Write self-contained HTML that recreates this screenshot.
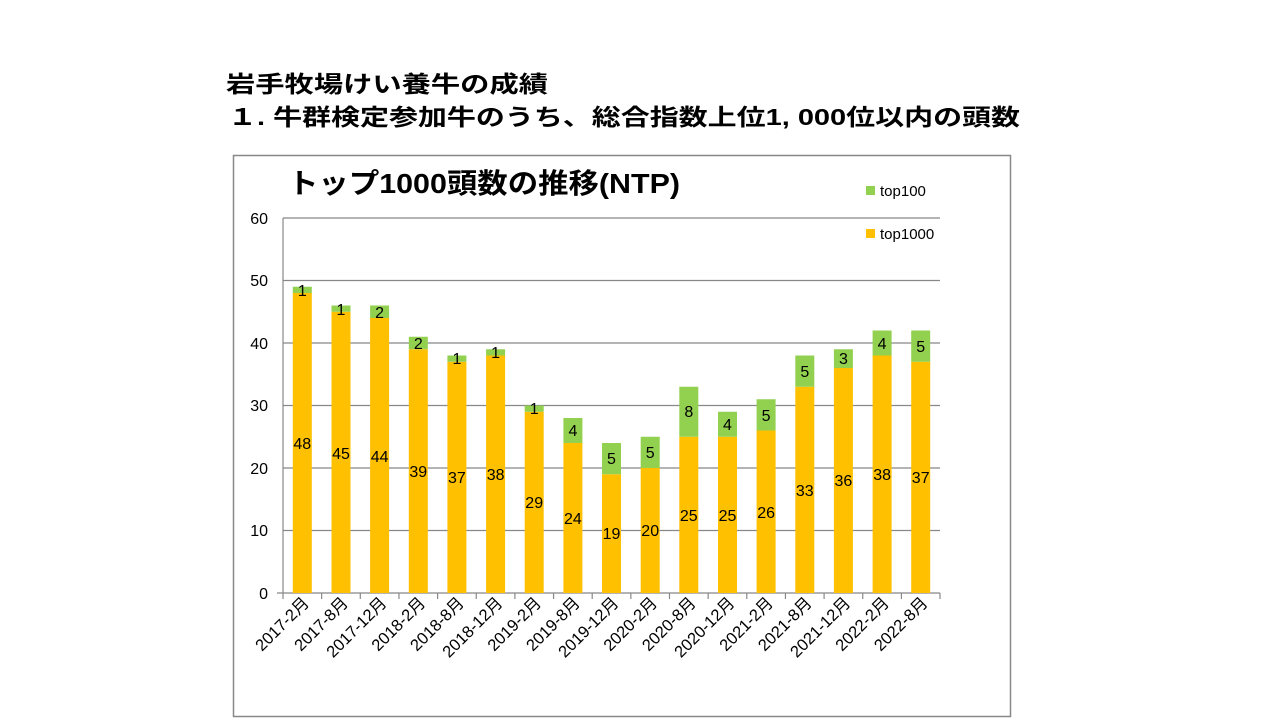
<!DOCTYPE html>
<html><head><meta charset="utf-8"><style>body{margin:0;background:#fff}svg{display:block}</style></head><body>
<svg width="1280" height="720" xmlns="http://www.w3.org/2000/svg" font-family="'Liberation Sans','Noto Sans CJK JP',sans-serif">
<text x="226" y="92" font-size="23" font-weight="bold" textLength="322" lengthAdjust="spacingAndGlyphs">岩手牧場けい養牛の成績</text>
<text x="228" y="125" font-size="23" font-weight="bold" textLength="792" lengthAdjust="spacingAndGlyphs">１. 牛群検定参加牛のうち、総合指数上位1, 000位以内の頭数</text>
<rect x="233.5" y="155.5" width="777" height="561" fill="#fff" stroke="#888" stroke-width="1.5"/>
<text x="288" y="193" font-size="28" font-weight="bold" textLength="392" lengthAdjust="spacingAndGlyphs">トップ1000頭数の推移(NTP)</text>
<g stroke="#888" stroke-width="1.2">
<line x1="283" y1="218" x2="940" y2="218"/><line x1="283" y1="280.5" x2="940" y2="280.5"/>
<line x1="283" y1="343" x2="940" y2="343"/><line x1="283" y1="405.5" x2="940" y2="405.5"/>
<line x1="283" y1="468" x2="940" y2="468"/><line x1="283" y1="530.5" x2="940" y2="530.5"/>
<line x1="283" y1="218" x2="283" y2="593"/><line x1="277" y1="593" x2="940" y2="593"/>
</g>
<g font-size="16" text-anchor="end">
<text x="268" y="224">60</text><text x="268" y="286">50</text><text x="268" y="349">40</text><text x="268" y="411">30</text><text x="268" y="474">20</text><text x="268" y="536">10</text><text x="268" y="599">0</text>
</g>
<rect x="866" y="186" width="9" height="9" fill="#92d050"/><text x="880" y="196" font-size="15">top100</text>
<rect x="866" y="229" width="9" height="9" fill="#ffc000"/><text x="880" y="239" font-size="15">top1000</text>
<g fill="#ffc000">
<rect x="292.8" y="293" width="19" height="300"/>
<rect x="331.5" y="311.75" width="19" height="281.25"/>
<rect x="370.1" y="318" width="19" height="275"/>
<rect x="408.8" y="349.25" width="19" height="243.75"/>
<rect x="447.4" y="361.75" width="19" height="231.25"/>
<rect x="486.1" y="355.5" width="19" height="237.5"/>
<rect x="524.7" y="411.75" width="19" height="181.25"/>
<rect x="563.4" y="443" width="19" height="150"/>
<rect x="602" y="474.25" width="19" height="118.75"/>
<rect x="640.7" y="468" width="19" height="125"/>
<rect x="679.3" y="436.75" width="19" height="156.25"/>
<rect x="718" y="436.75" width="19" height="156.25"/>
<rect x="756.6" y="430.5" width="19" height="162.5"/>
<rect x="795.3" y="386.75" width="19" height="206.25"/>
<rect x="833.9" y="368" width="19" height="225"/>
<rect x="872.6" y="355.5" width="19" height="237.5"/>
<rect x="911.2" y="361.75" width="19" height="231.25"/>
</g>
<g fill="#92d050">
<rect x="292.8" y="286.75" width="19" height="6.25"/>
<rect x="331.5" y="305.5" width="19" height="6.25"/>
<rect x="370.1" y="305.5" width="19" height="12.5"/>
<rect x="408.8" y="336.75" width="19" height="12.5"/>
<rect x="447.4" y="355.5" width="19" height="6.25"/>
<rect x="486.1" y="349.25" width="19" height="6.25"/>
<rect x="524.7" y="405.5" width="19" height="6.25"/>
<rect x="563.4" y="418" width="19" height="25"/>
<rect x="602" y="443" width="19" height="31.25"/>
<rect x="640.7" y="436.75" width="19" height="31.25"/>
<rect x="679.3" y="386.75" width="19" height="50"/>
<rect x="718" y="411.75" width="19" height="25"/>
<rect x="756.6" y="399.25" width="19" height="31.25"/>
<rect x="795.3" y="355.5" width="19" height="31.25"/>
<rect x="833.9" y="349.25" width="19" height="18.75"/>
<rect x="872.6" y="330.5" width="19" height="25"/>
<rect x="911.2" y="330.5" width="19" height="31.25"/>
</g>
<g stroke="#888" stroke-width="1.2">
<line x1="283" y1="593" x2="283" y2="599"/><line x1="321.65" y1="593" x2="321.65" y2="599"/><line x1="360.3" y1="593" x2="360.3" y2="599"/><line x1="398.95" y1="593" x2="398.95" y2="599"/><line x1="437.6" y1="593" x2="437.6" y2="599"/><line x1="476.25" y1="593" x2="476.25" y2="599"/><line x1="514.9" y1="593" x2="514.9" y2="599"/><line x1="553.55" y1="593" x2="553.55" y2="599"/><line x1="592.2" y1="593" x2="592.2" y2="599"/><line x1="630.85" y1="593" x2="630.85" y2="599"/><line x1="669.5" y1="593" x2="669.5" y2="599"/><line x1="708.15" y1="593" x2="708.15" y2="599"/><line x1="746.8" y1="593" x2="746.8" y2="599"/><line x1="785.45" y1="593" x2="785.45" y2="599"/><line x1="824.1" y1="593" x2="824.1" y2="599"/><line x1="862.75" y1="593" x2="862.75" y2="599"/><line x1="901.4" y1="593" x2="901.4" y2="599"/><line x1="940" y1="593" x2="940" y2="599"/>
</g>
<g font-size="16" text-anchor="middle">
<text x="302.3" y="449">48</text><text x="302.3" y="296">1</text>
<text x="341" y="459">45</text><text x="341" y="315">1</text>
<text x="379.6" y="462">44</text><text x="379.6" y="318">2</text>
<text x="418.3" y="477">39</text><text x="418.3" y="349">2</text>
<text x="456.9" y="483">37</text><text x="456.9" y="364">1</text>
<text x="495.6" y="480">38</text><text x="495.6" y="358">1</text>
<text x="534.2" y="508">29</text><text x="534.2" y="414">1</text>
<text x="572.9" y="524">24</text><text x="572.9" y="436">4</text>
<text x="611.5" y="539">19</text><text x="611.5" y="464">5</text>
<text x="650.2" y="536">20</text><text x="650.2" y="458">5</text>
<text x="688.8" y="521">25</text><text x="688.8" y="417">8</text>
<text x="727.5" y="521">25</text><text x="727.5" y="430">4</text>
<text x="766.1" y="518">26</text><text x="766.1" y="421">5</text>
<text x="804.8" y="496">33</text><text x="804.8" y="377">5</text>
<text x="843.4" y="486">36</text><text x="843.4" y="364">3</text>
<text x="882.1" y="480">38</text><text x="882.1" y="349">4</text>
<text x="920.7" y="483">37</text><text x="920.7" y="352">5</text>
</g>
<g font-size="16.5" text-anchor="end">
<text transform="translate(310,604) rotate(-45)">2017-2月</text>
<text transform="translate(349,604) rotate(-45)">2017-8月</text>
<text transform="translate(387.6,604) rotate(-45)">2017-12月</text>
<text transform="translate(426.3,604) rotate(-45)">2018-2月</text>
<text transform="translate(464.9,604) rotate(-45)">2018-8月</text>
<text transform="translate(503.6,604) rotate(-45)">2018-12月</text>
<text transform="translate(542.2,604) rotate(-45)">2019-2月</text>
<text transform="translate(580.9,604) rotate(-45)">2019-8月</text>
<text transform="translate(619.5,604) rotate(-45)">2019-12月</text>
<text transform="translate(658.2,604) rotate(-45)">2020-2月</text>
<text transform="translate(696.8,604) rotate(-45)">2020-8月</text>
<text transform="translate(735.5,604) rotate(-45)">2020-12月</text>
<text transform="translate(774.1,604) rotate(-45)">2021-2月</text>
<text transform="translate(812.8,604) rotate(-45)">2021-8月</text>
<text transform="translate(851.4,604) rotate(-45)">2021-12月</text>
<text transform="translate(890.1,604) rotate(-45)">2022-2月</text>
<text transform="translate(928.7,604) rotate(-45)">2022-8月</text>
</g>
</svg>
</body></html>
